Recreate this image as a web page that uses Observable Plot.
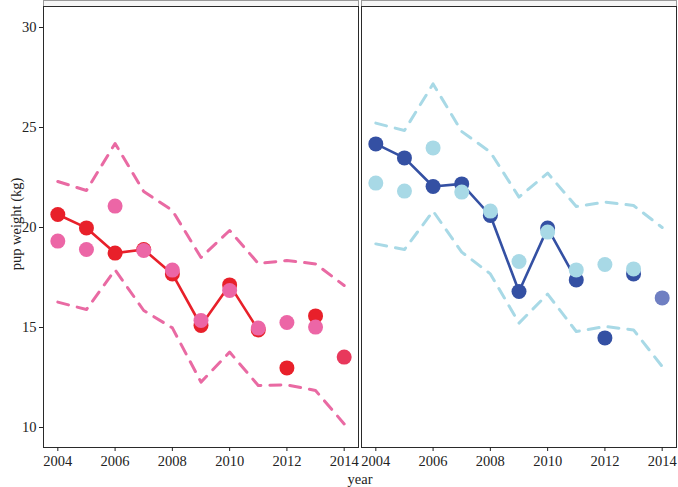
<!DOCTYPE html>
<html><head><meta charset="utf-8">
<script src="https://cdn.jsdelivr.net/npm/d3@7"></script>
<script src="https://cdn.jsdelivr.net/npm/@observablehq/plot@0.6"></script>
<style>
body{margin:0;background:#fff}
#wrap{position:relative;width:678px;height:487px;font-family:"Liberation Serif",serif;color:#222}
#xlabel{position:absolute;left:0;width:720px;top:470px;text-align:center;font-size:14.5px;line-height:18px}
</style>
</head><body>
<div id="wrap"><div id="xlabel">year</div></div>
<script>
const years = [2004,2005,2006,2007,2008,2009,2010,2011,2012,2013,2014];
const panels = ["A","B"];
const xTicks = [2004,2006,2008,2010,2012,2014];
const yTicks = [10,15,20,25,30];
const connectedThrough = 2011;
const forecastYear = 2014;

// panel A (red / pink)
const obsA  = [20.65,19.98,18.72,18.9,17.68,15.1,17.13,14.88,12.98,15.58,13.52];
const predA = [19.32,18.9,21.07,18.85,17.87,15.35,16.85,14.97,15.25,15.02,13.52];
const upA   = [22.3,21.85,24.2,21.8,20.85,18.5,19.85,18.2,18.35,18.18,17.1];
const loA   = [16.27,15.9,17.88,15.85,14.98,12.27,13.77,12.1,12.13,11.85,10.18];
// panel B (blue)
const obsB  = [24.18,23.48,22.05,22.18,20.6,16.8,19.97,17.38,14.48,17.68,16.48];
const predB = [22.22,21.82,23.98,21.77,20.82,18.3,19.77,17.88,18.15,17.93,16.48];
const upB   = [25.22,24.85,27.18,24.8,23.77,21.52,22.72,21.05,21.27,21.1,20.0];
const loB   = [19.18,18.9,20.82,18.77,17.68,15.22,16.67,14.8,15.05,14.88,13.05];

const seriesKeys = ["A-obs","A-pred","A-band","A-fc","B-obs","B-pred","B-band","B-fc"];
const seriesColors = ["#e8202a","#ec66a6","#e96aa3","#e8385c","#3450a3","#a8d9e6","#a8d9e6","#6f7fc2"];

function rows(panel, arr, kind, bound) {
  return years.map((year, i) => ({panel, year, value: arr[i], key: panel + "-" + kind, bound}));
}
const obs = [...rows("A", obsA, "obs"), ...rows("B", obsB, "obs")];
const pred = [...rows("A", predA, "pred"), ...rows("B", predB, "pred")];
const band = [...rows("A", upA, "band", "up"), ...rows("A", loA, "band", "lo"),
              ...rows("B", upB, "band", "up"), ...rows("B", loB, "band", "lo")];
const fc = obs.filter(d => d.year === forecastYear).map(d => ({...d, key: d.panel + "-fc"}));

const chart = Plot.plot({
  width: 678, height: 487,
  marginLeft: 43, marginRight: 1, marginTop: 0, marginBottom: 40,
  style: {fontFamily: "Liberation Serif, serif", fontSize: "14.5px", color: "#222", background: "#fff"},
  fx: {domain: panels, axis: null, paddingInner: 0.0094, paddingOuter: 0, label: null},
  x: {domain: [2003.5, 2014.5], axis: null},
  y: {domain: [9, 31.05], insetTop: 6, axis: null},
  color: {domain: seriesKeys, range: seriesColors},
  marks: [
    Plot.frame({stroke: "#9a9a9a", fill: "#f7f7f7"}),
    Plot.frame({insetTop: 6, stroke: "#2a2a2a", fill: "#fff"}),
    Plot.axisY({ticks: yTicks, tickSize: 4, tickPadding: 3, label: "pup weight (kg)", labelAnchor: "center", labelOffset: 33, labelArrow: false, fontSize: 14.5}),
    Plot.axisX({ticks: xTicks, tickFormat: "d", tickSize: 4, tickPadding: 4, label: null, fontSize: 14.5}),
    Plot.line(band, {x: "year", y: "value", fx: "panel", z: "bound", stroke: "key", strokeWidth: 3, strokeDasharray: "11,9"}),
    Plot.line(obs.filter(d => d.year <= connectedThrough), {x: "year", y: "value", fx: "panel", stroke: "key", strokeWidth: 2.6}),
    Plot.dot(obs.filter(d => d.year !== forecastYear), {x: "year", y: "value", fx: "panel", fill: "key", r: 7.5}),
    Plot.dot(pred.filter(d => d.year !== forecastYear), {x: "year", y: "value", fx: "panel", fill: "key", r: 7.5}),
    Plot.dot(fc, {x: "year", y: "value", fx: "panel", fill: "key", r: 7.5})
  ]
});
document.getElementById("wrap").prepend(chart);
</script>
</body></html>
